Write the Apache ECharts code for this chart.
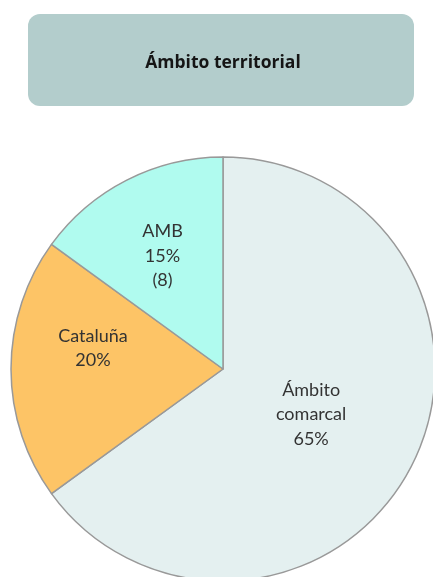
<!DOCTYPE html>
<html>
<head>
<meta charset="utf-8">
<script src="https://cdn.jsdelivr.net/npm/echarts@6/dist/echarts.min.js"></script>
<style>
html,body{margin:0;padding:0;background:#fff;}
#chart{width:433px;height:577px;}
</style>
</head>
<body>
<div id="chart"></div>
<script>
const titleText = 'Ámbito territorial';
const categories = ['Ámbito comarcal', 'Cataluña', 'AMB'];
const values = [65, 20, 15];
const notes = ['', '', '(8)'];
const colors = ['#e4f0f0', '#fdc466', '#b0fbef'];
const labelOffsets = [[-9, -4], [-21, -21], [-11, -16]];

const chart = echarts.init(document.getElementById('chart'), null, {renderer: 'canvas'});
const FONT = 'Lato, "Open Sans", sans-serif';

chart.setOption({
  animation: false,
  graphic: [{
    type: 'rect',
    shape: {x: 28, y: 14, width: 386, height: 92, r: 12},
    style: {fill: '#b3cdcc'},
    z: -1
  }],
  title: {
    text: titleText,
    left: 218,
    top: 49,
    textAlign: 'center',
    textStyle: {fontFamily: '"Open Sans", Lato, sans-serif', fontSize: 17.5, fontWeight: 'bold', color: '#151515'}
  },
  series: [{
    type: 'pie',
    center: [223, 369],
    radius: [0, 212],
    startAngle: 90,
    clockwise: true,
    silent: true,
    itemStyle: {borderColor: '#999999', borderWidth: 1.5},
    label: {
      position: 'inside',
      fontFamily: FONT,
      fontSize: 18,
      lineHeight: 24.5,
      color: '#333',
      align: 'center',
      formatter: function (p) {
        let s = p.name.replace(' ', '\n') + '\n' + Math.round(p.percent) + '%';
        if (notes[p.dataIndex]) s += '\n' + notes[p.dataIndex];
        return s;
      }
    },
    labelLine: {show: false},
    data: categories.map((c, i) => ({
      name: c,
      value: values[i],
      itemStyle: {color: colors[i]},
      label: {offset: labelOffsets[i]}
    }))
  }]
});
</script>
</body>
</html>
